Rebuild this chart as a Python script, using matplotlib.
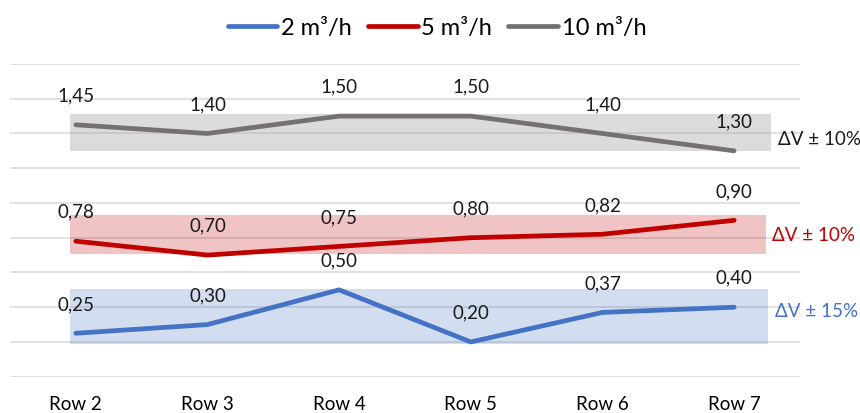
import numpy as np
import matplotlib.pyplot as plt

plt.rcParams['font.family'] = ['Lato', 'DejaVu Sans']

rows = ['Row 2', 'Row 3', 'Row 4', 'Row 5', 'Row 6', 'Row 7']
flow_2 = [0.25, 0.30, 0.50, 0.20, 0.37, 0.40]
flow_5 = [0.78, 0.70, 0.75, 0.80, 0.82, 0.90]
flow_10 = [1.45, 1.40, 1.50, 1.50, 1.40, 1.30]

# tolerance bands (low, high) and their text
band_2 = (0.19, 0.505)
band_5 = (0.705, 0.93)
band_10 = (1.30, 1.515)
band_text = ['ΔV ± 15%', 'ΔV ± 10%', 'ΔV ± 10%']

blue = '#4472C4'
red = '#C00000'
gray = '#767171'

fig = plt.figure(figsize=(8.6, 4.14), dpi=100)
ax = fig.add_axes([0.0116, 0.0877, 0.9186, 0.7553])
x = np.arange(len(rows))

ax.set_xlim(-0.5, len(rows) - 0.5)
ax.set_ylim(0, 1.8)
ax.set_yticks(np.arange(0, 1.81, 0.2))
ax.yaxis.grid(True, color='#D9D9D9', linewidth=1.1, zorder=0)
ax.set_axisbelow(True)
for s in ax.spines.values():
    s.set_visible(False)
ax.tick_params(left=False, labelleft=False, bottom=False, pad=10)
ax.set_xticks(x)
ax.set_xticklabels(rows, fontsize=13.5)

# bands
ax.fill_between([-0.046, 5.26], band_2[0], band_2[1], color=blue, alpha=0.24, lw=0, zorder=1)
ax.fill_between([-0.046, 5.24], band_5[0], band_5[1], color=red, alpha=0.23, lw=0, zorder=1)
ax.fill_between([-0.046, 5.28], band_10[0], band_10[1], color='#A6A6A6', alpha=0.4, lw=0, zorder=1)

series = [(flow_2, blue, '2 m³/h'), (flow_5, red, '5 m³/h'), (flow_10, gray, '10 m³/h')]
for vals, c, lab in series:
    ax.plot(x, vals, color=c, lw=3.4, solid_capstyle='round', solid_joinstyle='round',
            label=lab, zorder=3)
    for xi, v in zip(x, vals):
        ax.annotate(f'{v:.2f}'.replace('.', ','), (xi, v), xytext=(0, 21.5),
                    textcoords='offset points', ha='center', va='center',
                    fontsize=13.5, color='#1A1A1A', zorder=4)

# band captions on the right
ax.text(5.31, 0.38, band_text[0], color=blue, fontsize=13.5, va='center', ha='left')
ax.text(5.29, 0.82, band_text[1], color=red, fontsize=13.5, va='center', ha='left')
ax.text(5.33, 1.37, band_text[2], color='#1A1A1A', fontsize=13.5, va='center', ha='left')

fig.legend(loc='center', bbox_to_anchor=(0.508, 0.93), ncol=3, frameon=False,
           fontsize=17, handlelength=2.1, handletextpad=0.15, columnspacing=0.7)

fig.savefig('out.png', dpi=100)
